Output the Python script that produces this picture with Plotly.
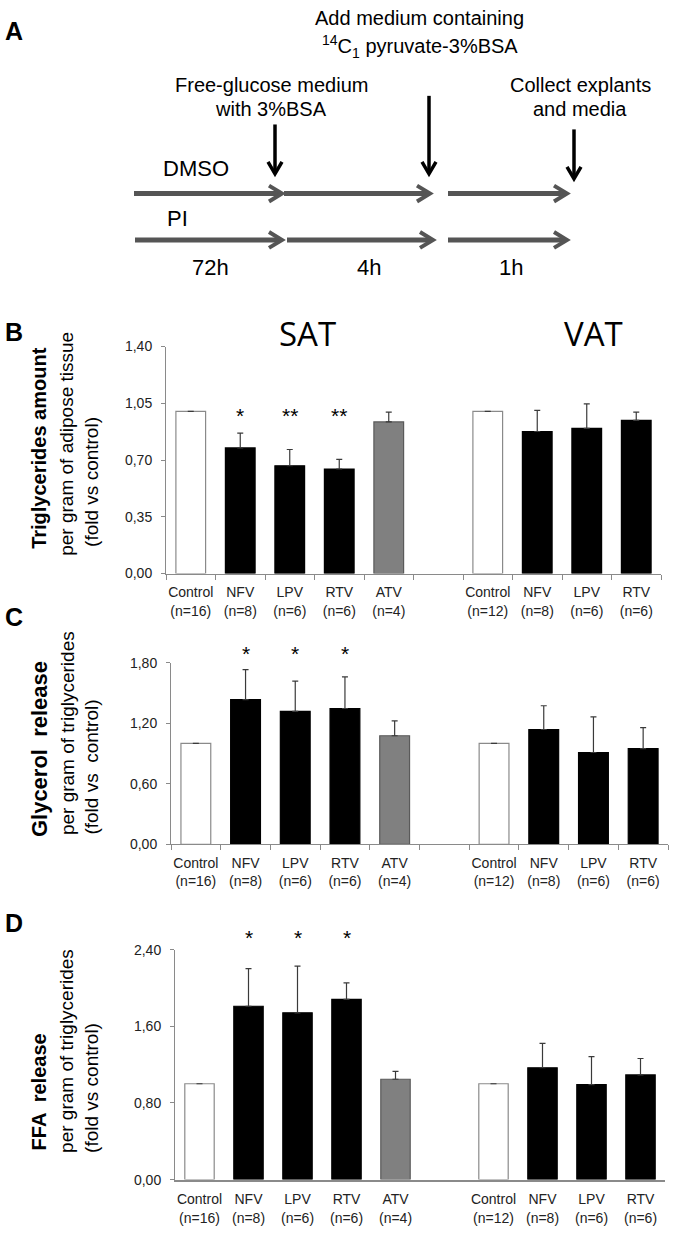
import plotly.graph_objects as go

W, H = 674, 1233

# ---------------- data ----------------
labels = ["Control", "NFV", "LPV", "RTV", "ATV", "Control", "NFV", "LPV", "RTV"]
n_sizes = [16, 8, 6, 6, 4, 12, 8, 6, 6]
group_of = ["SAT", "SAT", "SAT", "SAT", "SAT", "VAT", "VAT", "VAT", "VAT"]
kind = ["ctrl", "pi", "pi", "pi", "atv", "ctrl", "pi", "pi", "pi"]

tg_vals = [1.00, 0.775, 0.665, 0.645, 0.935, 1.00, 0.876, 0.896, 0.945]
tg_err = [None, 0.091, 0.100, 0.059, 0.061, None, 0.130, 0.151, 0.051]
tg_stars = ["", "*", "**", "**", "", "", "", "", ""]

gly_vals = [1.00, 1.434, 1.317, 1.346, 1.076, 1.00, 1.138, 0.910, 0.949]
gly_err = [None, 0.298, 0.300, 0.313, 0.147, None, 0.235, 0.352, 0.208]
gly_stars = ["", "*", "*", "*", "", "", "", "", ""]

ffa_vals = [1.00, 1.809, 1.740, 1.881, 1.047, 1.00, 1.167, 0.992, 1.092]
ffa_err = [None, 0.392, 0.488, 0.172, 0.083, None, 0.254, 0.292, 0.172]
ffa_stars = ["", "*", "*", "*", "", "", "", "", ""]

# ---------------- helpers ----------------
def px(x):
    return x / W

def py(y):
    return 1 - y / H

# x positions: one empty slot between the SAT and VAT groups
xpos = []
slot = 0
prev = group_of[0]
for g in group_of:
    if g != prev:
        slot += 1
        prev = g
    xpos.append(slot)
    slot += 1
n_slots = slot

ticktext = [f"{l}<br>(n={n})" for l, n in zip(labels, n_sizes)]
fill = {"ctrl": "white", "pi": "black", "atv": "#808080"}
edge = {"ctrl": "#8a8a8a", "pi": "black", "atv": "#5a5a5a"}

FONT = "Liberation Sans, Arial, sans-serif"

fig = go.Figure()
ann = []

panels = [
    # values, errors, stars, star height, ymax, dtick, x px domain, y px domain (top, bottom), minor ticks
    (tg_vals, tg_err, tg_stars, 0.975, 1.40, 0.35, (166, 661), (343, 573), True),
    (gly_vals, gly_err, gly_stars, 1.89, 1.80, 0.60, (171, 668), (663.3, 847.3), True),
    (ffa_vals, ffa_err, ffa_stars, 2.53, 2.40, 0.80, (175, 665), (954, 1187), False),
]

for i, (vals, err, stars, star_y, ymax, dtick, (xl, xr), (yt, yb), minor) in enumerate(panels):
    k = "" if i == 0 else str(i + 1)
    fig.add_trace(go.Bar(
        x=xpos, y=vals, width=0.6,
        marker=dict(color=[fill[t] for t in kind],
                    line=dict(color=[edge[t] for t in kind], width=1.2)),
        error_y=dict(type="data", symmetric=False, array=err,
                     arrayminus=[0] * len(err), color="#3a3a3a",
                     thickness=1.2, width=3),
        xaxis="x" + k, yaxis="y" + k, showlegend=False, hoverinfo="skip",
    ))
    for xv, s in zip(xpos, stars):
        if s:
            ann.append(dict(
                x=xv, y=star_y / ymax, xref="x" + k, yref=f"y{k} domain",
                text=s, showarrow=False, xanchor="center", yanchor="middle",
                font=dict(size=21, color="black", family=FONT),
            ))
    xa = dict(
        domain=[px(xl), px(xr)], range=[-0.5, n_slots - 0.5],
        anchor="y" + k, tickmode="array", tickvals=xpos, ticktext=ticktext,
        ticks="", showline=True, linecolor="#8a8a8a",
        linewidth=1 if minor else 2,
        tickfont=dict(size=14, color="#222", family=FONT),
        ticklabelstandoff=6, showgrid=False, zeroline=False, fixedrange=True,
    )
    if minor:
        xa["minor"] = dict(tick0=0.5, dtick=1, ticks="outside", ticklen=5,
                           tickcolor="#8a8a8a", tickwidth=1, showgrid=False)
    ya = dict(
        domain=[py(yb), py(yt)], range=[0, ymax], anchor="x" + k,
        tick0=0, dtick=dtick, tickformat=".2f", ticks="outside", ticklen=4,
        tickcolor="#8a8a8a", showline=True, linecolor="#8a8a8a", linewidth=1,
        tickfont=dict(size=14, color="#222", family=FONT),
        ticklabelstandoff=6, showgrid=False, zeroline=False, fixedrange=True,
    )
    fig.update_layout(**{"xaxis" + k: xa, "yaxis" + k: ya})


def text(x, y, s, size=19, bold=False, xanchor="center", yanchor="middle",
         angle=0, family=FONT, color="black"):
    ann.append(dict(
        x=px(x), y=py(y), xref="paper", yref="paper", text=f"<b>{s}</b>" if bold else s,
        showarrow=False, xanchor=xanchor, yanchor=yanchor, textangle=angle,
        font=dict(size=size, family=family, color=color),
    ))

# panel letters
text(3, 23, "A", size=25, bold=True, xanchor="left")
text(3, 328, "B", size=25, bold=True, xanchor="left")
text(3, 617, "C", size=25, bold=True, xanchor="left")
text(3, 927, "D", size=25, bold=True, xanchor="left")

# group titles
text(307, 330, "SAT", size=33, family="Open Sans, sans-serif")
text(593, 330, "VAT", size=33, family="Open Sans, sans-serif")

# y-axis titles (rotated, left-aligned at the bottom)
ytitles = [
    (["Triglycerides amount", "per gram of adipose tissue", "(fold vs control)"],
     [550, 557, 548], [20, 19, 19]),
    (["Glycerol  release", "per gram of triglycerides", "(fold vs  control)"],
     [842, 840, 840], [22, 19, 19]),
    (["FFA  release", "per gram of triglycerides", "(fold vs control)"],
     [1160, 1162, 1162], [20, 19, 19]),
]
for lines, bottoms, sizes in ytitles:
    for j, (s, b, sz) in enumerate(zip(lines, bottoms, sizes)):
        text([39, 67, 92][j], b, s, size=sz, bold=(j == 0), yanchor="bottom",
             angle=-90)

# ---------------- panel A: protocol diagram ----------------
text(419, 10, "Add medium containing", size=20)
text(420, 22, "<sup>14</sup>C<sub>1</sub> pyruvate-3%BSA", size=20, yanchor="top")
text(271, 78, "Free-glucose medium", size=20)
text(271, 102, "with 3%BSA", size=20)
text(580, 78, "Collect explants", size=20)
text(580, 102, "and media", size=20)
text(196, 163, "DMSO", size=22)
text(177, 213, "PI", size=22)
text(210, 263, "72h", size=22)
text(369, 263, "4h", size=22)
text(511, 263, "1h", size=22)

shapes = []

def seg(x0, y0, x1, y1, color, w):
    shapes.append(dict(type="line", xref="paper", yref="paper",
                       x0=px(x0), y0=py(y0), x1=px(x1), y1=py(y1),
                       line=dict(color=color, width=w)))

def path(pts, color, w):
    d = "M " + " L ".join(f"{px(a)},{py(b)}" for a, b in pts)
    shapes.append(dict(type="path", xref="paper", yref="paper", path=d,
                       line=dict(color=color, width=w)))

grey = "#555555"
for y, segs in [(188, [(134, 282), (284, 430), (448, 567)]),
                (235, [(135, 282), (287, 433), (448, 567)])]:
    for a, b in segs:
        seg(a, y, b - 1, y, grey, 5)
        path([(b - 13, y - 8), (b, y), (b - 13, y + 8)], grey, 4)

for x, y0, y1 in [(275, 118, 168), (429, 89, 168), (574, 123, 173)]:
    seg(x, y0, x, y1 - 1, "black", 3.5)
    path([(x - 7, y1 - 12), (x, y1), (x + 7, y1 - 12)], "black", 3.5)

fig.update_layout(
    width=W, height=H, margin=dict(l=0, r=0, t=0, b=0),
    paper_bgcolor="white", plot_bgcolor="white",
    separators=", ", annotations=ann, shapes=shapes, bargap=0.4,
    font=dict(family=FONT),
)

fig.write_html(
    "out.html",
    config={"displayModeBar": False},
    post_script="document.body.style.margin='0';document.body.style.overflow='hidden';",
)
